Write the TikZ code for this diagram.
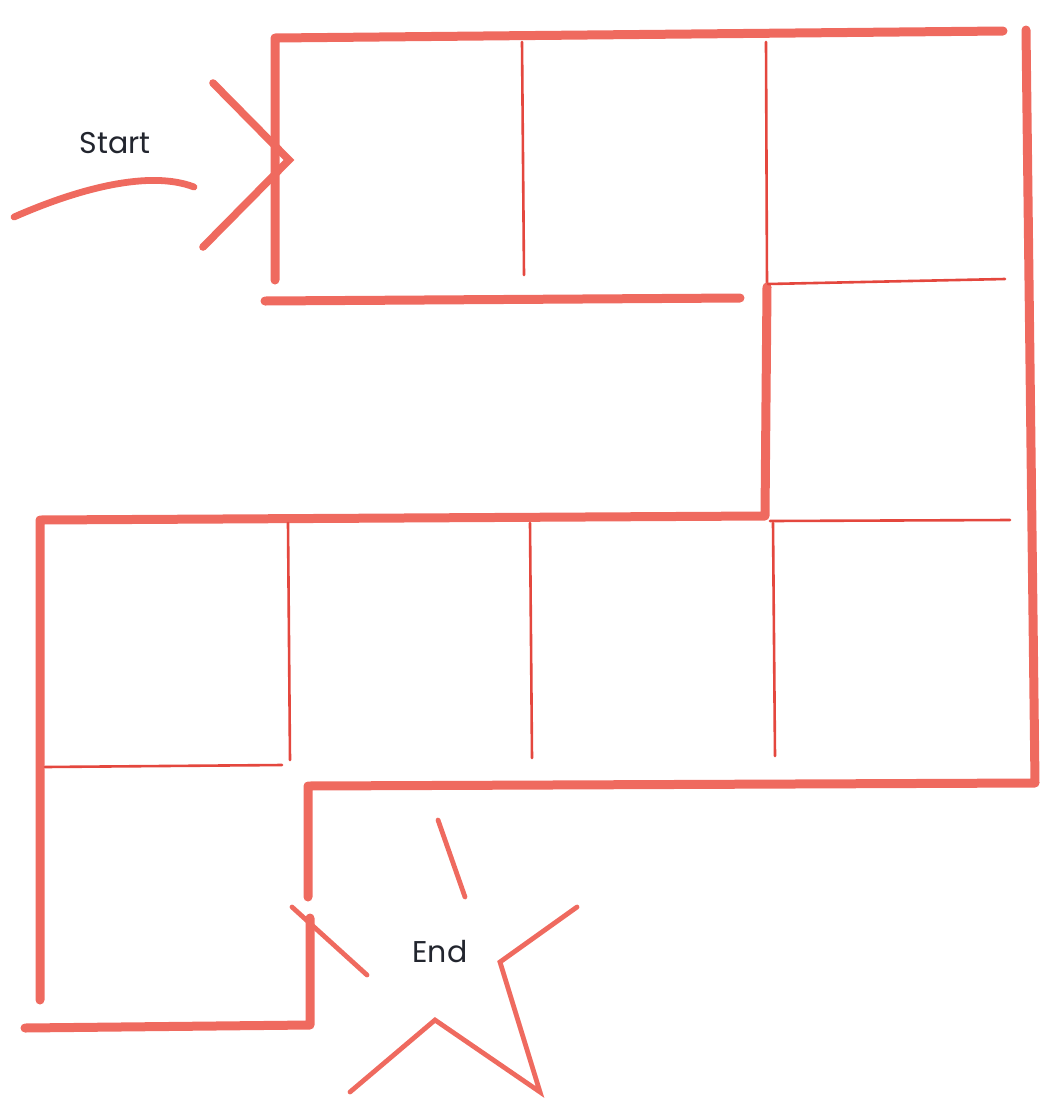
\documentclass[tikz,border=0pt]{standalone}
\usepackage{fontspec}
\setmainfont{Poppins}
\usetikzlibrary{calc}
\definecolor{MazeRed}{HTML}{EF6A5F}
\definecolor{MazeLine}{HTML}{E4473E}
\definecolor{Ink}{HTML}{22252E}

\begin{document}
\begin{tikzpicture}[x=.5pt,y=-.5pt,
  wall/.style={line width=4.5pt,MazeRed,line cap=round,line join=round},
  thinwall/.style={line width=1.3pt,MazeLine,line cap=round},
  starline/.style={line width=2.4pt,MazeRed,line cap=round,line join=miter},
  lbl/.style={font=\fontsize{15}{17}\selectfont,text=Ink}]
  \useasboundingbox (0,0) rectangle (1047,1104);
  % top corridor
  \draw[wall] (275,280)--(275,38)--(1003,31);
  \draw[wall] (265,301)--(740,298);
  \draw[thinwall] (522,42)--(524,275);
  \draw[thinwall] (766,42)--(767,285);
  % outer right and bottom walls
  \draw[wall] (1026,30)--(1035,783)--(308,786)--(308,897);
  \draw[wall] (310,918)--(310,1025)--(25,1028);
  % lower corridor
  \draw[wall] (40,1000)--(40,520)--(765,516)--(767,287);
  \draw[thinwall] (768,284)--(1005,279);
  \draw[thinwall] (770,521)--(1010,520);
  \draw[thinwall] (288,523)--(290,760);
  \draw[thinwall] (530,523)--(532,758);
  \draw[thinwall] (773,523)--(775,756);
  \draw[thinwall] (45,767)--(282,765);
  % start arrow
  \draw[wall,line width=3.8pt,line join=miter] (213,83)--(289,160)--(203,247);
  \draw[wall,line width=3.4pt] (14,217) .. controls (80,188) and (150,170) .. (194,187);
  \node[lbl] (start) at (115,143) {Start};
  % end star
  \draw[starline] (438,820)--(465,897);
  \draw[starline] (577,907)--(500,962)--(540,1092)--(435,1020)--(350,1092);
  \draw[starline] (292,907)--(367,975);
  \node[lbl] (end) at (440,952) {End};
\end{tikzpicture}
\end{document}
